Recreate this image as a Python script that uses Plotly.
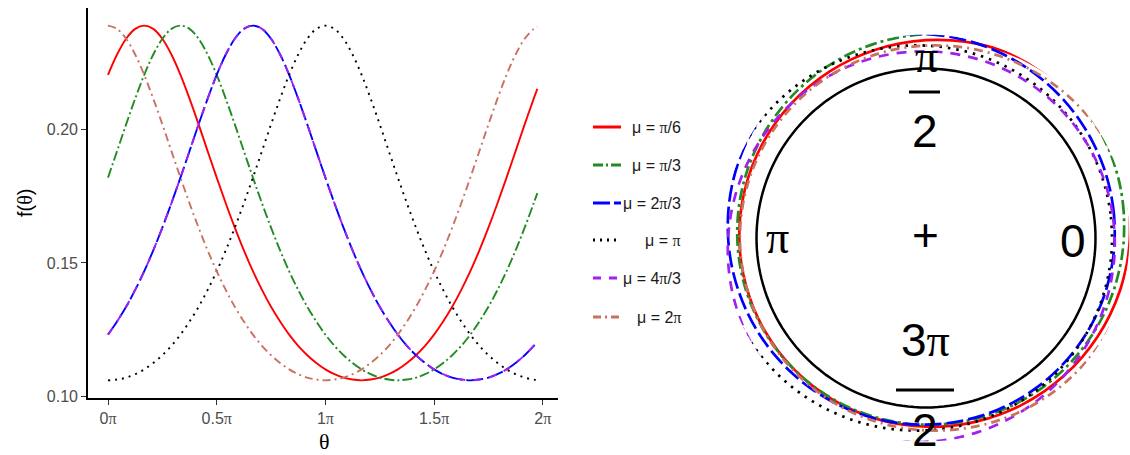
import plotly.graph_objects as go
import numpy as np

W, H = 1130, 455

# ---------------- data ----------------
# theta in units of pi
theta_pi = [0.0000, 0.0417, 0.0833, 0.1250, 0.1667, 0.2083, 0.2500, 0.2917,
            0.3333, 0.3750, 0.4167, 0.4583, 0.5000, 0.5417, 0.5833, 0.6250,
            0.6667, 0.7083, 0.7500, 0.7917, 0.8333, 0.8750, 0.9167, 0.9583,
            1.0000, 1.0417, 1.0833, 1.1250, 1.1667, 1.2083, 1.2500, 1.2917,
            1.3333, 1.3750, 1.4167, 1.4583, 1.5000, 1.5417, 1.5833, 1.6250,
            1.6667, 1.7083, 1.7500, 1.7917, 1.8333, 1.8750, 1.9167, 1.9583,
            1.9750]

f_pi_6 = [0.2203, 0.2279, 0.2338, 0.2375, 0.2387, 0.2375, 0.2338, 0.2279,
          0.2203, 0.2114, 0.2018, 0.1918, 0.1819, 0.1723, 0.1632, 0.1547,
          0.1469, 0.1399, 0.1336, 0.1281, 0.1232, 0.1190, 0.1155, 0.1126,
          0.1102, 0.1084, 0.1071, 0.1064, 0.1061, 0.1064, 0.1071, 0.1084,
          0.1102, 0.1126, 0.1155, 0.1190, 0.1232, 0.1281, 0.1336, 0.1399,
          0.1469, 0.1547, 0.1632, 0.1723, 0.1819, 0.1918, 0.2018, 0.2114,
          0.2151]
f_pi_3 = [0.1819, 0.1918, 0.2018, 0.2114, 0.2203, 0.2279, 0.2338, 0.2375,
          0.2387, 0.2375, 0.2338, 0.2279, 0.2203, 0.2114, 0.2018, 0.1918,
          0.1819, 0.1723, 0.1632, 0.1547, 0.1469, 0.1399, 0.1336, 0.1281,
          0.1232, 0.1190, 0.1155, 0.1126, 0.1102, 0.1084, 0.1071, 0.1064,
          0.1061, 0.1064, 0.1071, 0.1084, 0.1102, 0.1126, 0.1155, 0.1190,
          0.1232, 0.1281, 0.1336, 0.1399, 0.1469, 0.1547, 0.1632, 0.1723,
          0.1761]
f_2pi_3 = [0.1232, 0.1281, 0.1336, 0.1399, 0.1469, 0.1547, 0.1632, 0.1723,
           0.1819, 0.1918, 0.2018, 0.2114, 0.2203, 0.2279, 0.2338, 0.2375,
           0.2387, 0.2375, 0.2338, 0.2279, 0.2203, 0.2114, 0.2018, 0.1918,
           0.1819, 0.1723, 0.1632, 0.1547, 0.1469, 0.1399, 0.1336, 0.1281,
           0.1232, 0.1190, 0.1155, 0.1126, 0.1102, 0.1084, 0.1071, 0.1064,
           0.1061, 0.1064, 0.1071, 0.1084, 0.1102, 0.1126, 0.1155, 0.1190,
           0.1206]
f_pi = [0.1061, 0.1064, 0.1071, 0.1084, 0.1102, 0.1126, 0.1155, 0.1190,
        0.1232, 0.1281, 0.1336, 0.1399, 0.1469, 0.1547, 0.1632, 0.1723,
        0.1819, 0.1918, 0.2018, 0.2114, 0.2203, 0.2279, 0.2338, 0.2375,
        0.2387, 0.2375, 0.2338, 0.2279, 0.2203, 0.2114, 0.2018, 0.1918,
        0.1819, 0.1723, 0.1632, 0.1547, 0.1469, 0.1399, 0.1336, 0.1281,
        0.1232, 0.1190, 0.1155, 0.1126, 0.1102, 0.1084, 0.1071, 0.1064,
        0.1062]
# left panel: the mu = 4pi/3 curve lies on top of the mu = 2pi/3 curve
f_4pi_3_left = [0.1232, 0.1281, 0.1336, 0.1399, 0.1469, 0.1547, 0.1632, 0.1723,
                0.1819, 0.1918, 0.2018, 0.2114, 0.2203, 0.2279, 0.2338, 0.2375,
                0.2387, 0.2375, 0.2338, 0.2279, 0.2203, 0.2114, 0.2018, 0.1918,
                0.1819, 0.1723, 0.1632, 0.1547, 0.1469, 0.1399, 0.1336, 0.1281,
                0.1232, 0.1190, 0.1155, 0.1126, 0.1102, 0.1084, 0.1071, 0.1064,
                0.1061, 0.1064, 0.1071, 0.1084, 0.1102, 0.1126, 0.1155, 0.1190,
                0.1206]
# right panel (circular plot): mu = 4pi/3 bulges to the lower left
f_4pi_3_circ = [0.1232, 0.1190, 0.1155, 0.1126, 0.1102, 0.1084, 0.1071, 0.1064,
                0.1061, 0.1064, 0.1071, 0.1084, 0.1102, 0.1126, 0.1155, 0.1190,
                0.1232, 0.1281, 0.1336, 0.1399, 0.1469, 0.1547, 0.1632, 0.1723,
                0.1819, 0.1918, 0.2018, 0.2114, 0.2203, 0.2279, 0.2338, 0.2375,
                0.2387, 0.2375, 0.2338, 0.2279, 0.2203, 0.2114, 0.2018, 0.1918,
                0.1819, 0.1723, 0.1632, 0.1547, 0.1469, 0.1399, 0.1336, 0.1281,
                0.1260]
f_2pi = [0.2387, 0.2375, 0.2338, 0.2279, 0.2203, 0.2114, 0.2018, 0.1918,
         0.1819, 0.1723, 0.1632, 0.1547, 0.1469, 0.1399, 0.1336, 0.1281,
         0.1232, 0.1190, 0.1155, 0.1126, 0.1102, 0.1084, 0.1071, 0.1064,
         0.1061, 0.1064, 0.1071, 0.1084, 0.1102, 0.1126, 0.1155, 0.1190,
         0.1232, 0.1281, 0.1336, 0.1399, 0.1469, 0.1547, 0.1632, 0.1723,
         0.1819, 0.1918, 0.2018, 0.2114, 0.2203, 0.2279, 0.2338, 0.2375,
         0.2383]

legend_labels = ["μ = π/6", "μ = π/3", "μ = 2π/3", "μ = π", "μ = 4π/3", "μ = 2π"]
x_tick_vals = [0, 0.5, 1, 1.5, 2]
x_tick_text = ["0π", "0.5π", "1π", "1.5π", "2π"]
y_tick_vals = [0.10, 0.15, 0.20]
y_tick_text = ["0.10", "0.15", "0.20"]

# ---------------- styles ----------------
FONT = "Liberation Sans, Arial, sans-serif"
SERIF = "Liberation Serif, Times New Roman, serif"
RED, GREEN, BLUE, BLACK, PURPLE, SALMON = "#FF0000", "#228B22", "#0000FF", "#000000", "#A020F0", "#C8735F"

left_series = [
    (f_pi_6, RED, "solid"),
    (f_pi_3, GREEN, "10px,3px,2px,3px"),
    (f_2pi_3, BLUE, "17px,4px"),
    (f_pi, BLACK, "2px,5px"),
    (f_4pi_3_left, PURPLE, "8px,8px"),
    (f_2pi, SALMON, "8px,4px,2px,4px"),
]
circ_series = [
    (f_pi_6, RED, "solid"),
    (f_pi_3, GREEN, "12px,4px,3px,4px"),
    (f_2pi_3, BLUE, "17px,5px"),
    (f_pi, BLACK, "2.5px,6px"),
    (f_4pi_3_circ, PURPLE, "10px,8px"),
    (f_2pi, SALMON, "9px,5px,2px,5px"),
]


def px(x):
    return x / W


def py(y):
    return 1 - y / H


def pi_serif(s):
    return s.replace("π", '<span style="font-family:Liberation Serif, serif">π</span>')


fig = go.Figure()

for vals, col, dash in left_series:
    fig.add_trace(go.Scatter(x=theta_pi, y=vals, mode="lines", showlegend=False,
                             line=dict(color=col, width=1.9, dash=dash, shape="spline"),
                             xaxis="x", yaxis="y", hoverinfo="skip"))

# circular panel: reference circle plus density added to the radius
RSCALE = 0.92
circ_theta = list(np.linspace(0, 360, 181))
fig.add_trace(go.Scatterpolar(r=[1.0] * len(circ_theta), theta=circ_theta, mode="lines",
                              line=dict(color="black", width=2.5), showlegend=False,
                              subplot="polar", hoverinfo="skip"))
deg = [t * 180 for t in theta_pi] + [360]
for vals, col, dash in circ_series:
    rr = [1 + RSCALE * v for v in vals] + [1 + RSCALE * vals[0]]
    fig.add_trace(go.Scatterpolar(r=rr, theta=deg, mode="lines", showlegend=False,
                                  line=dict(color=col, width=2.7, dash=dash, shape="spline"),
                                  subplot="polar", cliponaxis=False, hoverinfo="skip"))

# polar placement: center (926, 238), unit radius 169.5 px, radial range 1.2
cx, cy, R1, RMAX = 926, 238, 169.5, 1.2
rad = R1 * RMAX

axis_common = dict(showgrid=False, zeroline=False, showline=True, linecolor="black",
                   linewidth=1.6, ticks="outside", ticklen=5, tickwidth=1.4,
                   tickcolor="#333333", tickfont=dict(family=FONT, size=16, color="#4D4D4D"),
                   automargin=False)

fig.update_layout(
    width=W, height=H, margin=dict(l=0, r=0, t=0, b=0),
    paper_bgcolor="white", plot_bgcolor="white",
    xaxis=dict(domain=[px(88), px(558)], range=[-0.092, 2.07], anchor="y",
               tickvals=x_tick_vals, ticktext=[pi_serif(t) for t in x_tick_text], **axis_common),
    yaxis=dict(domain=[py(398), py(8)], range=[0.0995, 0.2453], anchor="x",
               tickvals=y_tick_vals, ticktext=y_tick_text, **axis_common),
    polar=dict(domain=dict(x=[px(cx - rad), px(cx + rad)], y=[py(cy + rad), py(cy - rad)]),
               bgcolor="white",
               radialaxis=dict(visible=False, range=[0, RMAX]),
               angularaxis=dict(visible=False, rotation=0, direction="counterclockwise")),
    showlegend=False,
)

ann = []
# axis titles
ann.append(dict(x=px(25), y=py(203), xref="paper", yref="paper",
                text='f(<span style="font-family:Liberation Serif, serif">θ</span>)', textangle=-90,
                xanchor="center", yanchor="middle",
                showarrow=False, font=dict(family=FONT, size=20, color="black")))
ann.append(dict(x=px(324), y=py(441), xref="paper", yref="paper", text="θ",
                xanchor="center", yanchor="middle",
                showarrow=False, font=dict(family=SERIF, size=22, color="black")))

# manual legend
leg_y = [127, 165, 203, 240, 278, 317]
shapes = []
for (vals, col, dash), lab, yy in zip(left_series, legend_labels, leg_y):
    shapes.append(dict(type="line", xref="paper", yref="paper", x0=px(593), x1=px(621),
                       y0=py(yy), y1=py(yy), line=dict(color=col, width=3, dash=dash)))
    ann.append(dict(x=px(683), y=py(yy), xref="paper", yref="paper", text=pi_serif(lab),
                    xanchor="right", yanchor="middle", showarrow=False,
                    font=dict(family=FONT, size=16, color="#1A1A1A")))

# circular panel labels
big = dict(family=FONT, size=46, color="black")
for txt, x, y in [("π", 926, 56), ("2", 925, 131), ("π", 777, 237), ("0", 1073, 241),
                  ("+", 925, 235), ("3π", 925, 340), ("2", 925, 430)]:
    ann.append(dict(x=px(x), y=py(y), xref="paper", yref="paper", text=pi_serif(txt),
                    xanchor="center", yanchor="middle", showarrow=False, font=big))
shapes.append(dict(type="line", xref="paper", yref="paper", x0=px(909), x1=px(940),
                   y0=py(92), y1=py(92), line=dict(color="black", width=3)))
shapes.append(dict(type="line", xref="paper", yref="paper", x0=px(896), x1=px(954),
                   y0=py(390), y1=py(390), line=dict(color="black", width=3)))

fig.update_layout(annotations=ann, shapes=shapes)

fig.write_html("out.html")
